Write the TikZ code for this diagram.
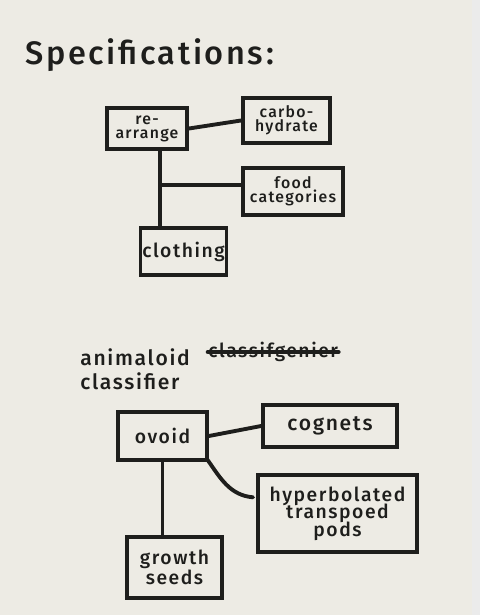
\documentclass[tikz,border=0pt]{standalone}
\usepackage{fontspec}
\setmainfont{Fira Sans}[LetterSpace=8]
\newfontfamily\handfont{Fira Sans Medium}[LetterSpace=8]
\usetikzlibrary{calc}
\definecolor{paper}{HTML}{EDEBE4}
\definecolor{ink}{HTML}{1E1E1C}
\tikzset{
  box/.style={draw=ink, line width=2.2pt, rectangle, align=center, inner sep=1pt,
              font=\handfont\fontsize{9}{10}\selectfont, text=ink},
  link/.style={draw=ink, line width=2.2pt, line cap=round},
  label/.style={anchor=west, text=ink, inner sep=0pt}
}
\begin{document}
\begin{tikzpicture}[x=0.02cm,y=-0.02cm]
\fill[paper] (0,0) rectangle (480,615);
\useasboundingbox (0,0) rectangle (480,615);
\fill[black!8] (472,0) rectangle (480,615);

% title
\node[label, font=\handfont\fontsize{18.5}{22}\selectfont] (title) at (25,55) {Specifications:};

% top diagram
\node[box, minimum width=1.6cm, minimum height=0.82cm] (rearr) at (147,128.5) {re-\\[-2pt]arrange};
\node[box, minimum width=1.74cm, minimum height=0.9cm] (carbo) at (286.5,120.5) {carbo-\\[-2pt]hydrate};
\node[box, minimum width=2.0cm, minimum height=0.94cm] (food) at (293,191.5) {food\\[-2pt]categories};
\node[box, minimum width=1.66cm, minimum height=0.94cm, font=\handfont\fontsize{11}{12}\selectfont] (cloth) at (183.5,251.5) {clothing};

\coordinate (j) at (160,185);
\draw[link] (rearr.east) -- (carbo.west);
\draw[link] (rearr.south -| j) -- (cloth.north -| j);
\draw[link] (j) -- (food.west |- j);

% second heading
\node[label, font=\handfont\fontsize{12}{14}\selectfont] (anim) at (80,357) {animaloid};
\node[label, font=\handfont\fontsize{11}{13}\selectfont] (struck) at (208,352) {classifgenier};
\draw[link, line width=2.6pt] (struck.west) -- (struck.east);
\node[label, font=\handfont\fontsize{12}{14}\selectfont] (classif) at (80,381) {classifier};

% bottom diagram
\node[box, minimum width=1.78cm, minimum height=0.96cm, font=\handfont\fontsize{11}{12}\selectfont] (ovoid) at (162.5,436) {ovoid};
\node[box, minimum width=2.68cm, minimum height=0.84cm, font=\handfont\fontsize{12}{13}\selectfont] (cogn) at (330,426) {cognets};
\node[box, minimum width=3.18cm, minimum height=1.54cm, font=\handfont\fontsize{11}{11}\selectfont] (hyper) at (337.5,513.5) {hyperbolated\\[-1pt]transpoed\\[-1pt]pods};
\node[box, minimum width=1.9cm, minimum height=1.22cm, font=\handfont\fontsize{11}{11}\selectfont] (grow) at (174.5,567.5) {growth\\[0pt]seeds};

\coordinate (h) at ($(hyper.north west)!0.3!(hyper.south west)$);
\draw[link] (ovoid.east) -- (cogn.west);
\draw[link] ($(ovoid.south east)+(-2,-3)$) to[out=-55,in=175] ($(h)+(-3,0)$);
\draw[link] (ovoid.south) -- (ovoid.south |- grow.north);
\end{tikzpicture}
\end{document}
